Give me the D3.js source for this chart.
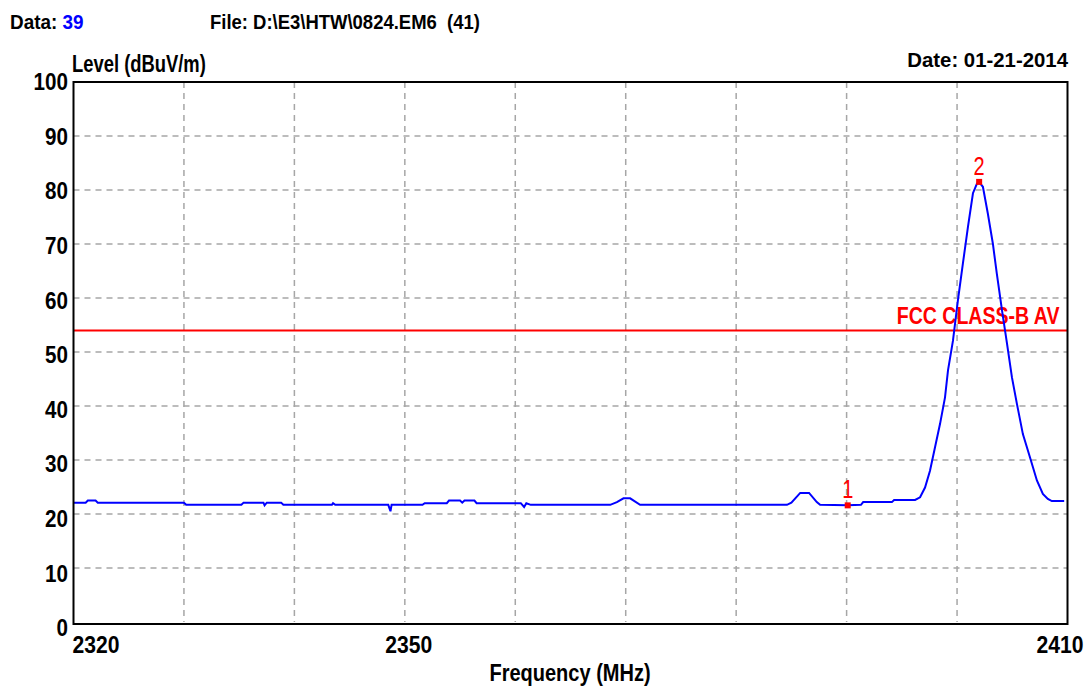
<!DOCTYPE html>
<html>
<head>
<meta charset="utf-8">
<script src="https://cdn.jsdelivr.net/npm/d3@7"></script>
<style>
body { margin: 0; background: #fff; }
text { font-family: "Liberation Sans Narrow", "Arial Narrow", "Liberation Sans", Arial, sans-serif; }
</style>
</head>
<body>
<div id="chart"></div>
<script>
// trace (MHz, dBuV/m)
var freqs = [2320.0, 2321.1, 2321.3, 2322.0, 2322.2, 2330.0, 2330.2, 2335.2, 2335.4, 2337.2, 2337.3, 2337.5,
             2338.8, 2339.0, 2343.4, 2343.5, 2343.7, 2348.5, 2348.7, 2348.8, 2351.6, 2351.8, 2353.8, 2354.0,
             2355.0, 2355.2, 2355.4, 2356.3, 2356.5, 2360.5, 2360.8, 2361.0, 2361.4, 2368.6, 2369.2, 2369.8,
             2370.4, 2371.3, 2384.6, 2385.0, 2385.8, 2386.6, 2387.3, 2387.6, 2390.1, 2391.3, 2391.5, 2394.1,
             2394.3, 2396.2, 2396.65, 2397.1, 2397.55, 2398.0, 2398.46, 2398.91, 2399.18, 2399.63, 2400.08,
             2400.53, 2400.99, 2401.44, 2401.8, 2401.98, 2402.34, 2402.79, 2403.24, 2403.6, 2404.07, 2404.52,
             2404.97, 2405.42, 2405.96, 2406.6, 2407.23, 2407.77, 2408.22, 2408.58, 2409.7];
var levels = [22.1, 22.1, 22.5, 22.5, 22.1, 22.1, 21.7, 21.7, 22.1, 22.1, 21.6, 22.1,
              22.1, 21.7, 21.7, 22.0, 21.7, 21.7, 20.5, 21.7, 21.7, 22.0, 22.0, 22.5,
              22.5, 22.1, 22.5, 22.5, 22.0, 22.0, 21.3, 22.0, 21.7, 21.7, 22.2, 22.9,
              22.9, 21.7, 21.7, 22.1, 23.9, 23.9, 22.2, 21.7, 21.6, 21.7, 22.2, 22.2,
              22.6, 22.6, 23.1, 24.9, 28.0, 32.3, 36.7, 41.6, 46.6, 52.1, 59.6,
              66.4, 73.2, 79.4, 81.2, 81.5, 80.6, 75.6, 70.1, 64.5, 57.7, 51.6,
              45.3, 40.4, 34.8, 30.5, 26.2, 23.7, 22.8, 22.4, 22.4];
var markers = [{num: "1", freq: 2390.1, level: 21.6}, {num: "2", freq: 2402.0, level: 81.5}];
var limitLevel = 54;
var limitName = "FCC CLASS-B AV";
var yTicks = [0, 10, 20, 30, 40, 50, 60, 70, 80, 90, 100];
var xGrid = [2330, 2340, 2350, 2360, 2370, 2380, 2390, 2400];
var xLabels = [2320, 2350, 2410];

var width = 1092, height = 689;
var svg = d3.select("#chart").append("svg")
            .attr("width", width)
            .attr("height", height);

var x = d3.scaleLinear().domain([2320, 2410]).range([73.5, 1067.5]);
var y = d3.scaleLinear().domain([0, 100]).range([622, 82]);
// tick labels drift a little from the grid in the original
var yLab = d3.scaleLinear().domain([0, 100]).range([628, 81.5]);

// no narrow font installed, so squeeze the text horizontally
function label(px, py, sx, size, txt){
	return svg.append("text")
	          .attr("transform", "translate(" + px + "," + py + ") scale(" + sx + ",1)")
	          .style("font-size", size + "px")
	          .style("font-weight", "bold")
	          .text(txt);
}

// grid
svg.selectAll(".hgrid")
   .data(yTicks.slice(1, 10))
   .enter()
   .append("line")
   .attr("x1", x(2320)).attr("x2", x(2410))
   .attr("y1", function(d){ return y(d); })
   .attr("y2", function(d){ return y(d); })
   .style("stroke", "#a6a6a6")
   .style("stroke-width", 1.5)
   .style("stroke-dasharray", "6,5");
svg.selectAll(".vgrid")
   .data(xGrid)
   .enter()
   .append("line")
   .attr("x1", function(d){ return x(d); })
   .attr("x2", function(d){ return x(d); })
   .attr("y1", y(100)).attr("y2", y(0))
   .style("stroke", "#a6a6a6")
   .style("stroke-width", 1.5)
   .style("stroke-dasharray", "6,5");

// limit line
svg.append("line")
   .attr("x1", x(2320)).attr("x2", x(2410))
   .attr("y1", y(limitLevel)).attr("y2", y(limitLevel))
   .style("stroke", "#ff0000")
   .style("stroke-width", 2);
label(x(2410) - 8, y(limitLevel) - 6, 0.85, 23, limitName)
   .attr("text-anchor", "end")
   .style("fill", "#ff0000");

// trace
var pts = freqs.map(function(f, i){ return [f, levels[i]]; });
var line = d3.line()
             .x(function(d){ return x(d[0]); })
             .y(function(d){ return y(d[1]); });
svg.append("path")
   .datum(pts)
   .attr("d", line)
   .style("fill", "none")
   .style("stroke", "#0000ff")
   .style("stroke-width", 2);

// markers
svg.selectAll(".mk")
   .data(markers)
   .enter()
   .append("rect")
   .attr("x", function(d){ return x(d.freq) - 3; })
   .attr("y", function(d){ return y(d.level) - 3; })
   .attr("width", 6).attr("height", 6)
   .style("fill", "#ff0000");
svg.selectAll(".mkt")
   .data(markers)
   .enter()
   .append("text")
   .attr("transform", function(d){ return "translate(" + x(d.freq) + "," + (y(d.level) - 7) + ") scale(0.8,1)"; })
   .attr("text-anchor", "middle")
   .style("font-size", "25px")
   .style("fill", "#ff0000")
   .text(function(d){ return d.num; });

// frame
svg.append("rect")
   .attr("x", x(2320)).attr("y", y(100))
   .attr("width", x(2410) - x(2320))
   .attr("height", y(0) - y(100) + 2)
   .style("fill", "none")
   .style("stroke", "#000")
   .style("stroke-width", 2);

// y labels
yTicks.forEach(function(d){
	label(68, yLab(d), 0.86, 24, d)
	   .attr("dy", "0.35em")
	   .attr("text-anchor", "end");
});

// x labels
xLabels.forEach(function(d, i){
	var px = x(d) + 4, anchor = "middle";
	if (i === 0) { px = x(d) - 1; anchor = "start"; }
	if (i === xLabels.length - 1) { px = x(d) + 16; anchor = "end"; }
	label(px, 653, 0.88, 24, d).attr("text-anchor", anchor);
});

// titles
label(570, 681, 0.87, 23, "Frequency (MHz)").attr("text-anchor", "middle");
label(72, 72, 0.8, 23, "Level (dBuV/m)");
label(1068, 67, 0.97, 21, "Date: 01-21-2014").attr("text-anchor", "end");
var dataTxt = label(10, 29, 0.9, 21, "Data: ");
dataTxt.append("tspan").style("fill", "#0000ff").text("39");
label(210, 29, 0.88, 21, "File: D:\\E3\\HTW\\0824.EM6  (41)")
   .style("white-space", "pre");
</script>
</body>
</html>
